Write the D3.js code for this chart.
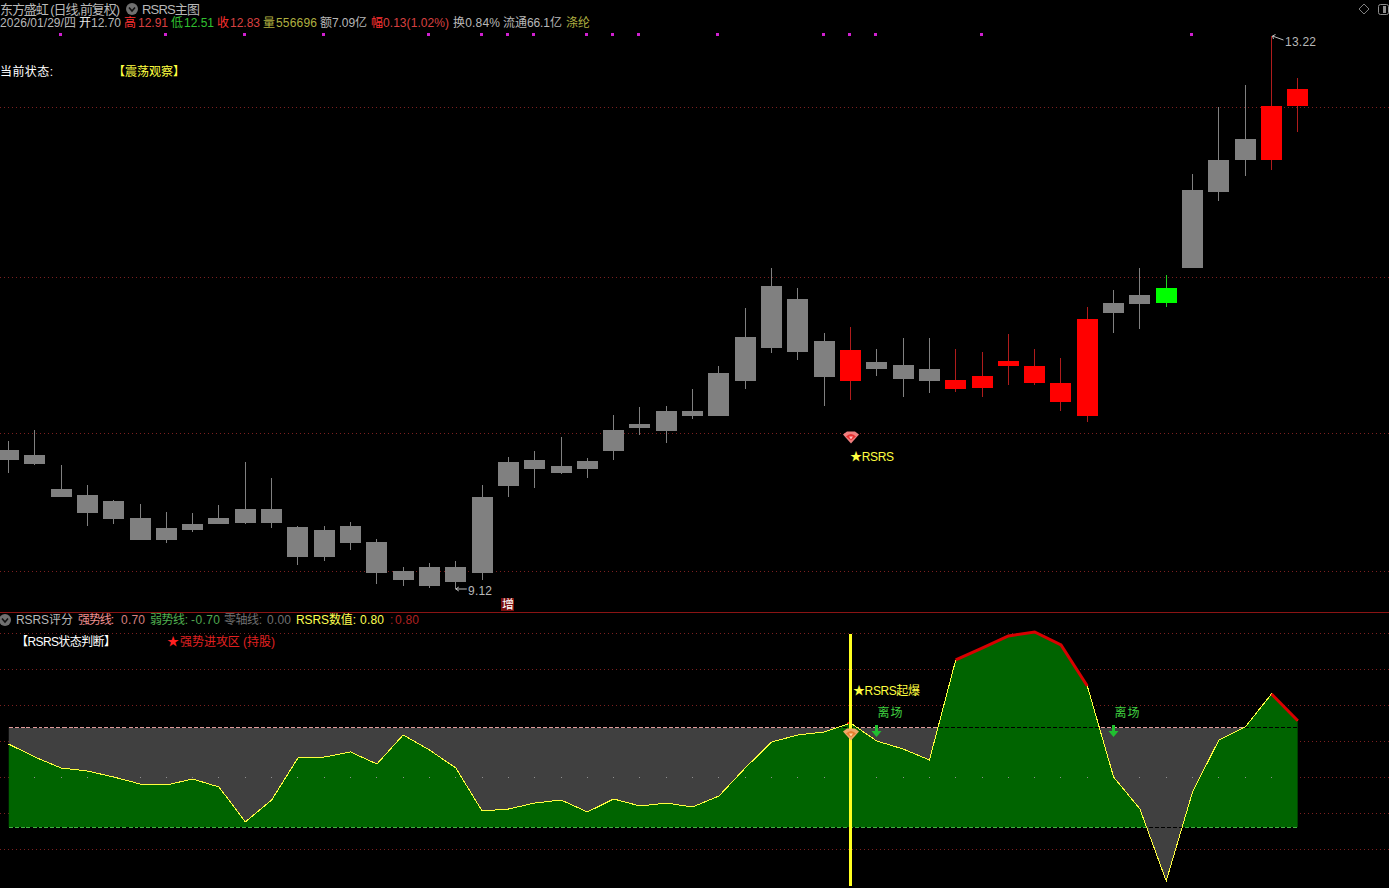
<!DOCTYPE html>
<html><head><meta charset="utf-8">
<script src="https://cdn.jsdelivr.net/npm/d3@7"></script>
<style>html,body{margin:0;padding:0;background:#000;overflow:hidden}svg{display:block}
text{font-family:"Liberation Sans","Noto Sans CJK SC",sans-serif;font-size:12px;dominant-baseline:central}</style>
</head><body><svg id="c" width="1389" height="888"></svg>
<script>
const bodyTop=[10.15,10.11,9.86,9.82,9.77,9.65,9.57,9.60,9.65,9.71,9.71,9.58,9.56,9.59,9.47,9.25,9.28,9.28,9.80,10.06,10.08,10.03,10.07,10.30,10.34,10.44,10.44,10.72,10.99,11.37,11.27,10.96,10.89,10.80,10.78,10.75,10.67,10.70,10.81,10.77,10.65,11.12,11.24,11.30,11.35,12.08,12.30,12.46,12.70,12.83];
const bodyBottom=[10.08,10.05,9.80,9.68,9.64,9.48,9.48,9.56,9.60,9.61,9.61,9.36,9.36,9.46,9.24,9.19,9.14,9.17,9.24,9.88,10.01,9.98,10.01,10.14,10.31,10.29,10.40,10.40,10.66,10.91,10.88,10.69,10.66,10.75,10.68,10.66,10.60,10.61,10.77,10.65,10.51,10.40,11.17,11.23,11.24,11.50,12.06,12.30,12.30,12.70];
const highs=[10.22,10.30,10.04,9.89,9.78,9.75,9.69,9.68,9.74,10.06,9.94,9.59,9.59,9.62,9.49,9.28,9.31,9.33,9.89,10.10,10.14,10.25,10.09,10.41,10.47,10.48,10.60,10.77,11.20,11.50,11.35,11.02,11.06,10.90,10.98,10.98,10.90,10.88,11.01,10.90,10.83,11.21,11.34,11.50,11.45,12.20,12.69,12.86,13.22,12.91];
const lows=[9.98,10.04,9.80,9.59,9.60,9.48,9.46,9.54,9.60,9.60,9.57,9.30,9.33,9.41,9.16,9.14,9.13,9.12,9.19,9.80,9.87,9.97,9.94,10.08,10.26,10.20,10.38,10.40,10.60,10.87,10.82,10.48,10.52,10.70,10.54,10.57,10.58,10.54,10.63,10.63,10.44,10.36,11.02,11.05,11.21,11.50,12.00,12.18,12.23,12.51];
const redCandles=[32,36,37,38,39,40,41,48,49];
const greenCandles=[44];
const signalDots=[2,6,9,12,16,18,19,20,22,23,24,27,31,32,33,37,45];
const priceGrid=[12.69,11.43,10.28,9.25];
const rsrs=[0.458,0.277,0.125,0.083,0,-0.097,-0.111,-0.028,-0.139,-0.624,-0.319,0.264,0.277,0.347,0.18,0.583,0.374,0.125,-0.472,-0.444,-0.361,-0.319,-0.485,-0.305,-0.402,-0.361,-0.416,-0.264,0.125,0.485,0.583,0.624,0.749,0.499,0.388,0.236,1.623,1.789,1.956,2.011,1.831,1.262,0,-0.444,-1.442,-0.208,0.513,0.693,1.151,0.78];
const redRuns=[[36,41],[48,49]];
const subGrid=[2,1.5,1,0.5,0,-0.5,-1];
const strong=0.7, weak=-0.7;
const exitBars=[33,42];

const svg=d3.select('#c');
const x=d3.scaleLinear().domain([0,49]).range([8.5,1297.8]);
const yp=d3.scaleLinear().domain([13.22,9.12]).range([36,589]);
const ys=d3.scaleLinear().domain([0,1]).range([777,704.9]);
const px=v=>Math.round(v)+0.5;
svg.append('rect').attr('width',1389).attr('height',888).attr('fill','#000');

// dotted grid
const gridG=svg.append('g').attr('stroke','#7c2020').attr('stroke-dasharray','1,3').attr('shape-rendering','crispEdges');
gridG.selectAll('.p').data(priceGrid).join('line').attr('x1',0).attr('x2',1389).attr('y1',d=>px(yp(d))).attr('y2',d=>px(yp(d)));
gridG.selectAll('.s').data(subGrid).join('line').attr('x1',0).attr('x2',1389).attr('y1',d=>px(ys(d))).attr('y2',d=>px(ys(d)));
svg.append('line').attr('x1',0).attr('x2',1389).attr('y1',612.5).attr('y2',612.5).attr('stroke','#8a1414');

// candles
const candleColor=i=>redCandles.includes(i)?'#ff0000':greenCandles.includes(i)?'#00ff00':'#808080';
const wickColor=i=>redCandles.includes(i)?'#b01c1c':greenCandles.includes(i)?'#20d020':'#808080';
const idx=d3.range(highs.length);
const cg=svg.append('g').attr('shape-rendering','crispEdges');
cg.selectAll('line').data(idx).join('line')
  .attr('x1',i=>Math.floor(x(i))+0.5).attr('x2',i=>Math.floor(x(i))+0.5)
  .attr('y1',i=>yp(highs[i])).attr('y2',i=>yp(lows[i])).attr('stroke',wickColor);
cg.selectAll('rect').data(idx).join('rect')
  .attr('x',i=>Math.floor(x(i))-10).attr('width',21)
  .attr('y',i=>Math.round(yp(bodyTop[i])))
  .attr('height',i=>Math.max(2,Math.round(yp(bodyBottom[i]))-Math.round(yp(bodyTop[i]))))
  .attr('fill',candleColor);
svg.append('g').selectAll('rect').data(signalDots).join('rect')
  .attr('x',i=>Math.floor(x(i))-2).attr('y',33).attr('width',3).attr('height',3).attr('fill','#d020d0');

// helper for text
function T(s,xx,yy,fill,len,size){
  const t=svg.append('text').attr('x',xx).attr('y',yy+1).attr('fill',fill).text(s);
  if(len)t.attr('textLength',len).attr('lengthAdjust','spacing');
  if(size)t.style('font-size',size+'px');
  return t;
}
function chevron(cx,cy){
  svg.append('circle').attr('cx',cx).attr('cy',cy).attr('r',6).attr('fill','#707070');
  svg.append('path').attr('d',`M${cx-3} ${cy-1.5}L${cx} ${cy+2}L${cx+3} ${cy-1.5}`).attr('stroke','#111').attr('stroke-width',1.6).attr('fill','none');
}
function gem(cx,cy,c1,c2,c3){
  svg.append('path').attr('d',`M${cx-8} ${cy-3}L${cx-4} ${cy-6}L${cx+4} ${cy-6}L${cx+8} ${cy-3}L${cx} ${cy+6}Z`).attr('fill',c1);
  svg.append('path').attr('d',`M${cx-5} ${cy-1}Q${cx} ${cy-6} ${cx+5} ${cy-1}L${cx} ${cy+3}Z`).attr('fill',c2);
  svg.append('path').attr('d',`M${cx-2} ${cy-1}L${cx+2} ${cy-1}L${cx} ${cy+2}Z`).attr('fill',c3);
}

// header
const GY='#b8b8b8',RD='#d84040',RB='#ff3030',GN='#30c030',YL='#b0b040';
T('东方盛虹 (日线,前复权)',0,8,GY,120,13);
chevron(132,9);
T('RSRS主图',142,8,GY,58,13);
T('2026/01/29/四',0,22,GY,76);
T('开',79,22,'#e8e8e8');T('12.70',91,22,GY,30);
T('高',124,22,RB);T('12.91',138,22,RD,30);
T('低',171,22,GN);T('12.51',184,22,GN,30);
T('收',217,22,RB);T('12.83',230,22,RD,30);
T('量',263,22,YL);T('556696',276,22,YL,41);
T('额7.09亿',320,22,GY,47);
T('幅',371,22,RB);T('0.13(1.02%)',383,22,RD,66);
T('换0.84%',453,22,GY,47);
T('流通66.1亿',503,22,GY,59);
T('涤纶',566,22,YL,24);
T('当前状态:',0,71,'#fff',53);
T('【震荡观察】',113,71,'#ffff40',72);
svg.append('path').attr('d','M1364 4L1369 9L1364 14L1359 9Z').attr('fill','none').attr('stroke','#808080');
svg.append('rect').attr('x',1378.5).attr('y',4.5).attr('width',10).attr('height',10).attr('rx',2).attr('fill','none').attr('stroke','#909090');
svg.append('rect').attr('x',1383).attr('y',6).attr('width',3).attr('height',7).attr('fill','#909090');

// extreme labels
const ext=svg.append('g').attr('stroke','#c0c0c0').attr('fill','none');
ext.append('path').attr('d',`M${x(17)} ${yp(9.12)}H${x(17)+11}M${x(17)} ${yp(9.12)}l3 -2M${x(17)} ${yp(9.12)}l3 2`);
ext.append('path').attr('d',`M${x(48)+1} ${yp(13.22)}L${x(48)+12} ${yp(13.22)+4}M${x(48)+1} ${yp(13.22)}l3 -1.5M${x(48)+1} ${yp(13.22)}l1 3`);
T('9.12',468,590,GY,24);
T('13.22',1285,41,GY,31);
svg.append('rect').attr('x',501).attr('y',598).attr('width',13).attr('height',13).attr('fill','#7a1010');
T('增',502,604,'#fff',12);
gem(x(32)+0.5,yp(10.28)+5,'#f08080','#e83030','#ffc0c0');
T('★RSRS',850,456,'#ffff40',44);

// ---- sub pane
const areaAbove=d3.area().x((d,i)=>x(i)).y0(620).y1(d=>ys(d));
const areaBelow=d3.area().x((d,i)=>x(i)).y0(888).y1(d=>ys(d));
const defs=svg.append('defs');
defs.append('clipPath').attr('id','above').append('path').attr('d',areaAbove(rsrs));
defs.append('clipPath').attr('id','below').append('path').attr('d',areaBelow(rsrs));
const x0=x(0),x1=x(49),yS=Math.round(ys(strong)),yW=Math.round(ys(weak));
svg.append('g').attr('clip-path','url(#above)').append('rect').attr('x',x0).attr('width',x1-x0).attr('y',yS).attr('height',888-yS).attr('fill','#404040');
svg.append('g').attr('clip-path','url(#below)').append('rect').attr('x',x0).attr('width',x1-x0).attr('y',620).attr('height',yW-620).attr('fill','#006400');

// zero dots
svg.append('g').selectAll('rect').data(idx.slice(1,49)).join('rect')
  .attr('x',i=>Math.floor(x(i))).attr('y',Math.round(ys(0))).attr('width',1).attr('height',1).attr('fill','#909090');

// threshold lines
function hline(yy,clip,stroke,dash,off){
  svg.append('g').attr('clip-path',clip?`url(#${clip})`:null).append('line').attr('x1',x0).attr('x2',x1).attr('y1',yy+0.5).attr('y2',yy+0.5)
    .attr('stroke',stroke).attr('stroke-dasharray',dash).attr('stroke-dashoffset',off||0).attr('shape-rendering','crispEdges');
}
hline(yS,'above','#000',null);
hline(yS,'above','#e09a9a','4,2');
hline(yS,'below','#000','4,2');
hline(yW,'below','#000',null);
hline(yW,'below','#40b040','4,2');
hline(yW,'above','#000','4,2');

// yellow curve + red runs
const ln=d3.line().x((d,i)=>x(i)).y(d=>ys(d));
svg.append('path').attr('d',ln(rsrs)).attr('fill','none').attr('stroke','#ffff40').attr('stroke-width',1).attr('shape-rendering','crispEdges');
const lnIdx=d3.line().x(i=>x(i)).y(i=>ys(rsrs[i]));
svg.append('g').selectAll('path').data(redRuns).join('path')
  .attr('d',r=>lnIdx(d3.range(r[0],r[1]+1))).attr('fill','none').attr('stroke','#d80000').attr('stroke-width',3);
svg.append('rect').attr('x',x(32)-3).attr('y',ys(rsrs[32])-1).attr('width',3).attr('height',2).attr('fill','#d80000');

// signal bar
svg.append('rect').attr('x',Math.floor(x(32))-1).attr('y',634).attr('width',3).attr('height',252).attr('fill','#ffff20');
gem(x(32)+0.5,ys(strong)+8,'#f0a868','#e88030','#ffd8a0');

// exit markers
exitBars.forEach(b=>{
  const ax=Math.floor(x(b))+0.5;
  T('离场',ax+1,712,'#40d040',25);
  svg.append('path').attr('d',`M${ax-1.5} 725h3v6h3.5L${ax} 737L${ax-5} 731h3.5Z`).attr('fill','#20c030');
});
T('★RSRS起爆',853,690,'#ffff40',67);

// sub labels
chevron(5,620);
T('RSRS评分',16,619,GY,57);
T('强势线:',78,619,'#f09090',36);T('0.70',121,619,'#d88080',24);
T('弱势线:',150,619,'#50b050',38);T('-0.70',191,619,'#50a850',29);
T('零轴线:',224,619,'#707070',38);T('0.00',267,619,'#707070',24);
T('RSRS数值:',296,619,'#ffff50',60);T('0.80',360,619,'#ffff50',24);
T(':',390,619,'#a02020');T('0.80',395,619,'#b02020',24);
T('【RSRS状态判断】',16,641,'#fff',100);
T('★',167,641,'#ff2020');
T('强势进攻区 (持股)',180,641,'#e02020',95);
</script></body></html>
